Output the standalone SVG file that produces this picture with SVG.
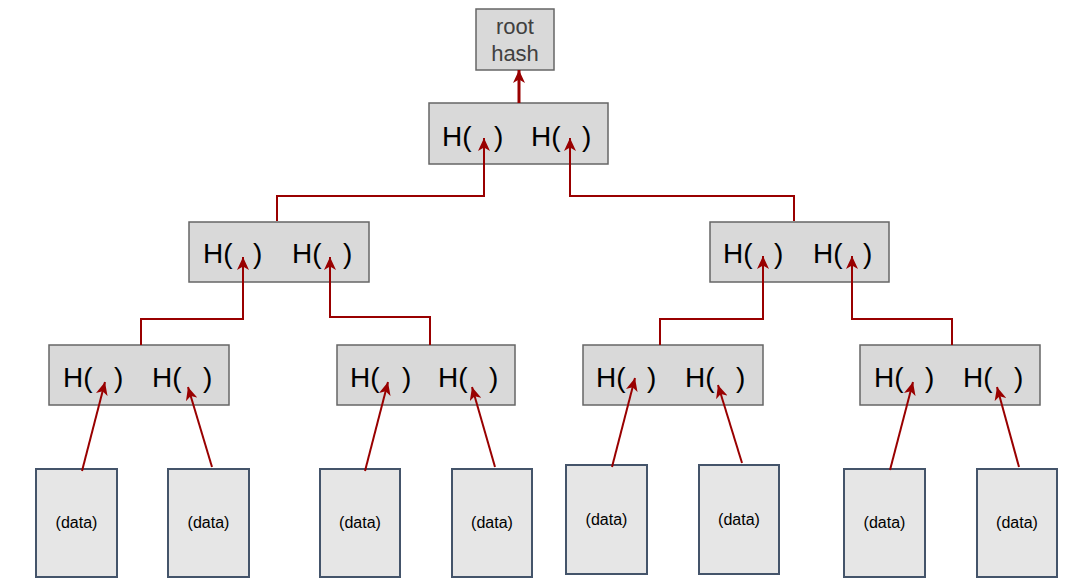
<svg xmlns="http://www.w3.org/2000/svg" width="1083" height="588" viewBox="0 0 1083 588">
<style>
.hn{fill:#d9d9d9;stroke:#666666;stroke-width:1.5}
.dn{fill:#e6e6e6;stroke:#44546a;stroke-width:2}
.ht{font-family:"Liberation Sans",Arial,sans-serif;font-size:28px;fill:#000}
.rt{font-family:"Liberation Sans",Arial,sans-serif;font-size:22px;fill:#404040;text-anchor:middle}
.dt{font-family:"Liberation Sans",Arial,sans-serif;font-size:16px;fill:#000;text-anchor:middle}
.c{fill:none;stroke:#990000;stroke-width:2;marker-end:url(#ah)}
</style>
<defs>
<marker id="ah" markerUnits="userSpaceOnUse" markerWidth="14" markerHeight="12" refX="13" refY="6" orient="auto">
<path d="M0,0 L13,6 L0,12 L3.5,6 z" fill="#990000"/>
</marker>
</defs>
<rect width="1083" height="588" fill="#fff"/>
<g id="root">
<rect class="hn" x="476" y="9" width="78" height="61"/>
<text class="rt" x="515" y="34">root</text>
<text class="rt" x="515" y="61">hash</text>
</g>
<g id="n-top">
<rect class="hn" x="429" y="103" width="179" height="61"/>
<text class="ht" x="442" y="146">H(</text><text class="ht" x="494" y="146">)</text>
<text class="ht" x="531" y="146">H(</text><text class="ht" x="582" y="146">)</text>
</g>
<g id="n-l2a">
<rect class="hn" x="189" y="222" width="180" height="60"/>
<text class="ht" x="203" y="263">H(</text><text class="ht" x="253" y="263">)</text>
<text class="ht" x="292" y="263">H(</text><text class="ht" x="343" y="263">)</text>
</g>
<g id="n-l2b">
<rect class="hn" x="710" y="222" width="179" height="60"/>
<text class="ht" x="723" y="263">H(</text><text class="ht" x="774" y="263">)</text>
<text class="ht" x="813" y="263">H(</text><text class="ht" x="863" y="263">)</text>
</g>
<g id="n-l3a">
<rect class="hn" x="49" y="345" width="180" height="60"/>
<text class="ht" x="63" y="387">H(</text><text class="ht" x="114" y="387">)</text>
<text class="ht" x="152" y="387">H(</text><text class="ht" x="203" y="387">)</text>
</g>
<g id="n-l3b">
<rect class="hn" x="337" y="345" width="178" height="60"/>
<text class="ht" x="350" y="387">H(</text><text class="ht" x="402" y="387">)</text>
<text class="ht" x="438" y="387">H(</text><text class="ht" x="489" y="387">)</text>
</g>
<g id="n-l3c">
<rect class="hn" x="583" y="345" width="180" height="60"/>
<text class="ht" x="596" y="387">H(</text><text class="ht" x="647" y="387">)</text>
<text class="ht" x="685" y="387">H(</text><text class="ht" x="736" y="387">)</text>
</g>
<g id="n-l3d">
<rect class="hn" x="860" y="345" width="180" height="60"/>
<text class="ht" x="874" y="387">H(</text><text class="ht" x="925" y="387">)</text>
<text class="ht" x="963" y="387">H(</text><text class="ht" x="1014" y="387">)</text>
</g>
<g id="d1"><rect class="dn" x="36" y="469" width="81" height="108"/><text class="dt" x="76.5" y="528">(data)</text></g>
<g id="d2"><rect class="dn" x="168" y="469" width="81" height="108"/><text class="dt" x="208.5" y="528">(data)</text></g>
<g id="d3"><rect class="dn" x="320" y="469" width="80" height="108"/><text class="dt" x="360" y="528">(data)</text></g>
<g id="d4"><rect class="dn" x="452" y="469" width="80" height="108"/><text class="dt" x="492" y="528">(data)</text></g>
<g id="d5"><rect class="dn" x="566" y="465" width="81" height="109"/><text class="dt" x="606.5" y="525">(data)</text></g>
<g id="d6"><rect class="dn" x="699" y="465" width="80" height="109"/><text class="dt" x="739" y="525">(data)</text></g>
<g id="d7"><rect class="dn" x="844" y="469" width="81" height="108"/><text class="dt" x="884.5" y="528">(data)</text></g>
<g id="d8"><rect class="dn" x="977" y="469" width="80" height="108"/><text class="dt" x="1017" y="528">(data)</text></g>
<g id="connectors">
<path class="c" d="M519,103 V70" style="stroke-width:3"/>
<path class="c" d="M277,221 V196 H484 V138"/>
<path class="c" d="M794,221 V196 H570 V138"/>
<path class="c" d="M141,345 V319 H243 V257"/>
<path class="c" d="M430,345 V317 H330 V257"/>
<path class="c" d="M660,345 V319 H763 V256"/>
<path class="c" d="M952,345 V319 H852 V256"/>
<path class="c" d="M82,471 L105,382"/>
<path class="c" d="M212,467 L188,387"/>
<path class="c" d="M365,471 L388,382"/>
<path class="c" d="M495,467 L472,387"/>
<path class="c" d="M612,467 L635,378"/>
<path class="c" d="M742,463 L718,385"/>
<path class="c" d="M890,470 L913,382"/>
<path class="c" d="M1019,467 L997,387"/>
</g>
</svg>
